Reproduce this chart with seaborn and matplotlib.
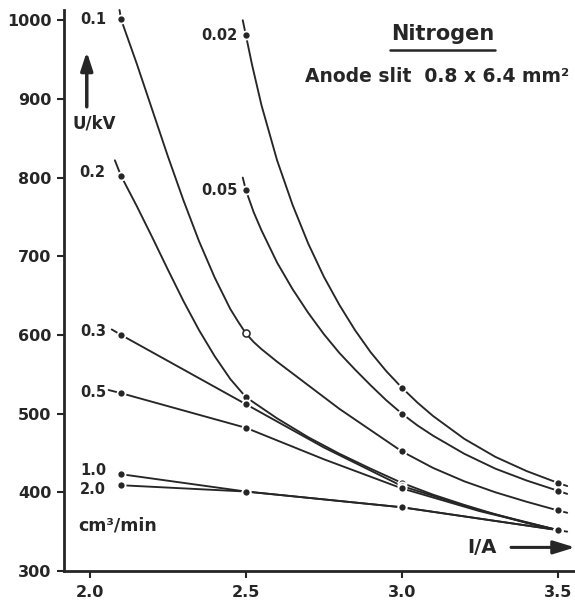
import matplotlib
matplotlib.use("Agg")
import matplotlib.pyplot as plt
from matplotlib.lines import Line2D
from matplotlib.transforms import IdentityTransform
import seaborn as sns
import pandas as pd

# ---------------- data ----------------
flows = ["0.02", "0.05", "0.1", "0.2", "0.3", "0.5", "1.0", "2.0"]

# curve traces (1/A , U/kV)
x_002 = [2.49, 2.50, 2.52, 2.55, 2.60, 2.65, 2.70, 2.75, 2.80, 2.85, 2.90, 2.95, 3.00, 3.05, 3.10, 3.20, 3.30, 3.40, 3.50, 3.53]
y_002 = [1000, 981, 943, 892, 822, 765, 716, 674, 638, 606, 578, 554, 533, 514, 497, 468, 445, 427, 412, 408]
x_005 = [2.49, 2.50, 2.525, 2.55, 2.60, 2.65, 2.70, 2.75, 2.80, 2.85, 2.90, 2.95, 3.00, 3.05, 3.10, 3.20, 3.30, 3.40, 3.50, 3.53]
y_005 = [800, 784, 756, 733, 692, 658, 628, 601, 577, 556, 536, 517, 500, 485, 472, 449, 430, 415, 402, 398]
x_01 = [2.095, 2.10, 2.15, 2.20, 2.25, 2.30, 2.35, 2.40, 2.45, 2.475, 2.50, 2.525, 2.55, 2.60, 2.70, 2.80, 2.90, 3.00, 3.10, 3.20, 3.30, 3.40, 3.50, 3.53]
y_01 = [1013, 1001, 945, 886, 827, 771, 719, 673, 633, 617, 602, 591, 582, 566, 536, 506, 479, 452, 431, 414, 400, 388, 377, 374]
x_02 = [2.08, 2.10, 2.15, 2.20, 2.25, 2.30, 2.35, 2.40, 2.45, 2.50, 2.60, 2.70, 2.80, 2.90, 3.00, 3.10, 3.20, 3.30, 3.40, 3.50, 3.53]
y_02 = [822, 802, 764, 724, 683, 643, 606, 573, 544, 521, 494, 470, 449, 430, 412, 397, 384, 372, 361, 352, 350]
x_03 = [2.07, 2.10, 2.50, 2.75, 3.00, 3.25, 3.50]
y_03 = [607, 600, 512, 457, 408, 377, 352]
x_05 = [2.06, 2.10, 2.50, 2.75, 3.00, 3.25, 3.50]
y_05 = [530, 526, 482, 442, 405, 376, 352]
x_10 = [2.10, 2.50, 3.00, 3.50]
y_10 = [423, 401, 381, 352]
x_20 = [2.10, 2.50, 3.00, 3.50]
y_20 = [409, 401, 381, 352]

# measured points (filled markers)
mx_002 = [2.5, 3.0, 3.5]
my_002 = [981, 533, 412]
mx_005 = [2.5, 3.0, 3.5]
my_005 = [784, 500, 402]
mx_01 = [2.1, 3.0, 3.5]
my_01 = [1001, 452, 377]
mx_01_open = [2.5]
my_01_open = [602]
mx_02 = [2.1, 2.5, 3.0, 3.5]
my_02 = [802, 521, 412, 352]
mx_03 = [2.1, 2.5, 3.0, 3.5]
my_03 = [600, 512, 408, 352]
mx_05 = [2.1, 2.5, 3.0, 3.5]
my_05 = [526, 482, 405, 352]
mx_10 = [2.1, 2.5, 3.0, 3.5]
my_10 = [423, 401, 381, 352]
mx_20 = [2.1, 2.5, 3.0, 3.5]
my_20 = [409, 401, 381, 352]

x_ticks = [2.0, 2.5, 3.0, 3.5]
x_ticklabels = ["2.0", "2.5", "3.0", "3.5"]
y_ticks = [300, 400, 500, 600, 700, 800, 900, 1000]
y_ticklabels = ["300", "400", "500", "600", "700", "800", "900", "1000"]

# ---------------- build tables ----------------
traces = [(x_002, y_002), (x_005, y_005), (x_01, y_01), (x_02, y_02),
          (x_03, y_03), (x_05, y_05), (x_10, y_10), (x_20, y_20)]
rows = []
for f, (xs, ys) in zip(flows, traces):
    for i, (xv, yv) in enumerate(zip(xs, ys)):
        rows.append({"flow": f, "i": i, "x": xv, "y": yv})
df_lines = pd.DataFrame(rows)

marks = [(mx_002, my_002), (mx_005, my_005), (mx_01, my_01), (mx_02, my_02),
         (mx_03, my_03), (mx_05, my_05), (mx_10, my_10), (mx_20, my_20)]
mrows = []
for f, (xs, ys) in zip(flows, marks):
    for xv, yv in zip(xs, ys):
        mrows.append({"flow": f, "x": xv, "y": yv})
df_marks = pd.DataFrame(mrows)
df_open = pd.DataFrame({"x": mx_01_open, "y": my_01_open})

# ---------------- style ----------------
sns.set_style("ticks")
plt.rcParams["font.family"] = ["DejaVu Sans"]
plt.rcParams["font.weight"] = "bold"
INK = "#262626"

W, H = 575, 605
fig = plt.figure(figsize=(W / 100, H / 100), dpi=100)
ax = fig.add_axes([64 / W, 1 - 571 / H, 511 / W, 561 / H])

sns.lineplot(data=df_lines, x="x", y="y", units="flow", estimator=None, sort=False,
             color=INK, linewidth=1.35, ax=ax, legend=False, clip_on=False)
sns.scatterplot(data=df_marks, x="x", y="y", color=INK, s=34, edgecolor="white",
                linewidth=1.3, ax=ax, legend=False, zorder=3)
sns.scatterplot(data=df_open, x="x", y="y", color="white", s=26, edgecolor=INK,
                linewidth=1.1, ax=ax, legend=False, zorder=4)

ax.set_xlim(1.917, 3.555)
ax.set_ylim(300, 1013)
ax.set_xticks(x_ticks)
ax.set_xticklabels(x_ticklabels)
ax.set_yticks(y_ticks)
ax.set_yticklabels(y_ticklabels)
ax.set_xlabel("")
ax.set_ylabel("")
for s in ["top", "right"]:
    ax.spines[s].set_visible(False)
for s in ["left", "bottom"]:
    ax.spines[s].set_linewidth(2.0)
    ax.spines[s].set_color(INK)
ax.tick_params(axis="both", direction="out", length=5, width=1.5, color=INK,
               labelsize=11.5, labelcolor=INK)
ax.tick_params(axis="x", pad=5)
ax.tick_params(axis="y", pad=4)

tk = dict(color=INK, fontsize=10.5, fontweight="bold", va="center")
ax.text(1.968, 1001, "0.1", ha="left", **tk)
ax.text(2.472, 980, "0.02", ha="right", **tk)
ax.text(1.965, 806, "0.2", ha="left", **tk)
ax.text(2.474, 783, "0.05", ha="right", **tk)
ax.text(1.968, 605, "0.3", ha="left", **tk)
ax.text(1.968, 527, "0.5", ha="left", **tk)
ax.text(1.968, 428, "1.0", ha="left", **tk)
ax.text(1.968, 404, "2.0", ha="left", **tk)
ax.text(1.962, 358, "cm³/min", ha="left", color=INK, fontsize=12.5,
        fontweight="bold", va="center")
ax.text(2.013, 869, "U/kV", ha="center", color=INK, fontsize=12,
        fontweight="bold", va="center")
ax.text(3.256, 330, "I/A", ha="center", color=INK, fontsize=14,
        fontweight="bold", va="center")

ax.annotate("", xy=(1.99, 960), xytext=(1.99, 890),
            arrowprops=dict(arrowstyle="-|>,head_length=1.1,head_width=0.36",
                            lw=2.5, color=INK, shrinkA=0, shrinkB=0))
ax.annotate("", xy=(3.555, 330), xytext=(3.35, 330), annotation_clip=False,
            arrowprops=dict(arrowstyle="-|>,head_length=1.3,head_width=0.4",
                            lw=2.2, color=INK, shrinkA=0, shrinkB=0))

t_title = ax.text(3.131, 982, "Nitrogen", ha="center", va="center",
                  color=INK, fontsize=15, fontweight="bold")
ax.text(3.112, 929, "Anode slit  0.8 x 6.4 mm²", ha="center", va="center",
        color=INK, fontsize=13.5, fontweight="bold")

fig.canvas.draw()
bb = t_title.get_window_extent()
yc = 0.5 * (bb.y0 + bb.y1)
fig.add_artist(Line2D([bb.x0 - 1, bb.x1 + 1], [yc - 16, yc - 16],
                      transform=IdentityTransform(), color=INK, linewidth=1.8))

fig.savefig("out.png", dpi=100, facecolor="white")
